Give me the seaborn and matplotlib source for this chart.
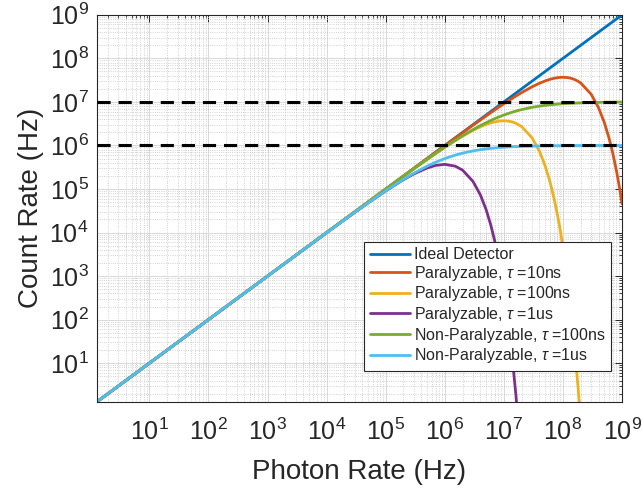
import numpy as np
import pandas as pd
import matplotlib
matplotlib.use("Agg")
import matplotlib.pyplot as plt
import seaborn as sns

nan = float("nan")

photon_rate = [1.3, 1e1, 1e2, 1e3, 1e4, 2e4, 5e4, 1e5, 2e5, 3e5, 5e5, 7e5, 1e6, 1.5e6,
               2e6, 3e6, 4e6, 5e6, 6e6, 7e6, 8e6, 1e7, 1.2e7, 1.4e7, 1.6e7, 2e7, 3e7,
               4e7, 5e7, 6e7, 7e7, 8e7, 9e7, 1e8, 1.2e8, 1.4e8, 1.6e8, 1.8e8, 2e8, 3e8,
               4e8, 5e8, 6e8, 7e8, 8e8, 9e8, 1e9]

ideal = photon_rate

para_10ns = [1.3, 1e1, 1e2, 1e3, 9999, 19996, 49975, 99900, 199600, 299101, 497506,
             695117, 990050, 1477668, 1960397, 2911336, 3843158, 4756147, 5650588,
             6526846, 7384947, 9048374, 10643047, 12171012, 13634303, 16374615,
             22224546, 26812802, 30326533, 32928698, 34760971, 35946317, 36591282,
             36787944, 36143305, 34523556, 32303504, 29753788, 27067057, 14936121,
             7326256, 3368973, 1487251, 638317, 268370, 111069, 45400]

para_100ns = [1.3, 1e1, 1e2, 1e3, 9990, 19960, 49751, 99005, 196040, 291134, 475615,
              652685, 904837, 1291062, 1637462, 2222455, 2681280, 3032653, 3292871,
              3476097, 3594632, 3678794, 3614331, 3452356, 3230350, 2706706, 1493612,
              732626, 336897, 148725, 63832, 26837, 11107, 4540, 737.3, 116.4, 18.0,
              2.74, 0.412, nan, nan, nan, nan, nan, nan, nan, nan]

para_1us = [1.3, 1e1, 1e2, 999, 9900, 19604, 47561, 90484, 163746, 222245, 303265,
            347610, 367879, 334695, 270671, 149361, 73263, 33690, 14873, 6383, 2684,
            454, 73.7, 11.6, 1.80, 0.041, nan, nan, nan, nan, nan, nan, nan, nan, nan,
            nan, nan, nan, nan, nan, nan, nan, nan, nan, nan, nan, nan]

nonpara_100ns = [1.3, 1e1, 1e2, 1e3, 9990, 19960, 49751, 99010, 196078, 291262, 476190,
                 654206, 909091, 1304348, 1666667, 2307692, 2857143, 3333333, 3750000,
                 4117647, 4444444, 5000000, 5454545, 5833333, 6153846, 6666667, 7500000,
                 8000000, 8333333, 8571429, 8750000, 8888889, 9000000, 9090909, 9230769,
                 9333333, 9411765, 9473684, 9523810, 9677419, 9756098, 9803922, 9836066,
                 9859155, 9876543, 9890110, 9900990]

nonpara_1us = [1.3, 1e1, 1e2, 999, 9901, 19608, 47619, 90909, 166667, 230769, 333333,
               411765, 500000, 600000, 666667, 750000, 800000, 833333, 857143, 875000,
               888889, 909091, 923077, 933333, 941176, 952381, 967742, 975610, 980392,
               983607, 985915, 987654, 989011, 990099, 991736, 992908, 993789, 994475,
               995025, 996678, 997506, 998004, 998336, 998573, 998752, 998890, 999001]

dead_time_limits = [1e7, 1e6]
major_ticks = [1e1, 1e2, 1e3, 1e4, 1e5, 1e6, 1e7, 1e8, 1e9]

labels = ["Ideal Detector",
          r"Paralyzable, $\tau$ =10ns",
          r"Paralyzable, $\tau$ =100ns",
          r"Paralyzable, $\tau$ =1us",
          r"Non-Paralyzable, $\tau$ =100ns",
          r"Non-Paralyzable, $\tau$ =1us"]
series = [ideal, para_10ns, para_100ns, para_1us, nonpara_100ns, nonpara_1us]
colors = ["#0072BD", "#D95319", "#EDB120", "#7E2F8E", "#77AC30", "#4DBEEE"]

sns.set_style("white")
plt.rcParams["font.family"] = ["Liberation Sans", "DejaVu Sans"]
plt.rcParams["mathtext.fontset"] = "custom"
plt.rcParams["mathtext.rm"] = "Liberation Sans"
plt.rcParams["mathtext.it"] = "Liberation Sans:italic"

fig = plt.figure(figsize=(6.42, 4.93), dpi=100)
ax = fig.add_axes([0.151, 0.185, 0.818, 0.785])

for lab, ys, col in zip(labels, series, colors):
    df = pd.DataFrame({"photon": photon_rate, "count": ys}).dropna()
    sns.lineplot(data=df, x="photon", y="count", ax=ax, color=col, lw=2,
                 label=lab, estimator=None, sort=False)

for lim in dead_time_limits:
    ax.axhline(lim, color="black", lw=2.2, ls="--", dashes=(4.3, 2.6), zorder=5)

ax.set_xscale("log")
ax.set_yscale("log")
ax.set_xlim(1.3, 1e9)
ax.set_ylim(1.3, 1e9)

fmt = matplotlib.ticker.LogFormatterSciNotation(base=10)
for axis in (ax.xaxis, ax.yaxis):
    axis.set_major_locator(matplotlib.ticker.FixedLocator(major_ticks))
    axis.set_major_formatter(fmt)
    axis.set_minor_locator(matplotlib.ticker.LogLocator(base=10, subs=np.arange(2, 10), numticks=100))
    axis.set_minor_formatter(matplotlib.ticker.NullFormatter())

ax.grid(which="major", color="#d9d9d9", lw=0.7, ls="-")
ax.grid(which="minor", color="#c4c4c4", lw=0.6, ls=":")
ax.set_axisbelow(True)

ax.tick_params(which="both", direction="in", top=True, right=True, colors="#262626")
ax.tick_params(which="major", length=5, width=0.7, labelsize=18)
ax.tick_params(axis="x", which="major", pad=12)
ax.tick_params(axis="y", which="major", pad=6)
ax.tick_params(which="minor", length=2.5, width=0.6)
for sp in ax.spines.values():
    sp.set_color("#262626")
    sp.set_linewidth(0.8)

ax.set_xlabel("Photon Rate (Hz)", fontsize=20, color="#262626", labelpad=10)
ax.set_ylabel("Count Rate (Hz)", fontsize=20, color="#262626", labelpad=4)

leg = ax.legend(loc="lower right", bbox_to_anchor=(0.979, 0.08), fontsize=11.5,
                frameon=True, fancybox=False, edgecolor="#262626", framealpha=1,
                handlelength=2.5, handletextpad=0.25, labelspacing=0.1,
                borderpad=0.35, borderaxespad=0)
leg.get_frame().set_linewidth(0.8)
leg.set_zorder(10)

fig.savefig("out.png", dpi=100)
